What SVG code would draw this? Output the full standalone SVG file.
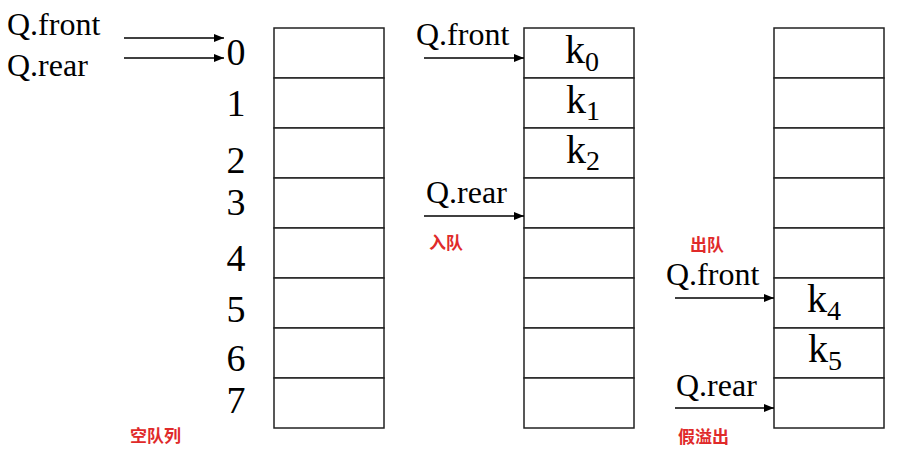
<svg xmlns="http://www.w3.org/2000/svg" width="921" height="454" viewBox="0 0 921 454">
<defs>
<marker id="ah" markerWidth="10" markerHeight="8" refX="10" refY="4" orient="auto" markerUnits="userSpaceOnUse">
<path d="M0,0 L10,4 L0,8 Z" fill="#000"/>
</marker>
<style>
.cell{fill:#fff;stroke:#222;stroke-width:1.5}
.lbl{font-size:32px;fill:#000}
.idx{font-size:38px;fill:#000;text-anchor:middle}
.k{font-size:40px;fill:#000}
.sub{font-size:28px}
.note{font-family:'Noto Sans CJK SC','Noto Sans',sans-serif;font-size:17px;font-weight:bold;fill:#e02a2a}
.arr{stroke:#000;stroke-width:1.5;fill:none;marker-end:url(#ah)}
</style>
</defs>
<rect width="921" height="454" fill="#fff"/>

<g font-family="Liberation Serif, DejaVu Serif, serif">
<g id="queue-empty">
<rect class="cell" x="274" y="28" width="110" height="50"/>
<rect class="cell" x="274" y="78" width="110" height="50"/>
<rect class="cell" x="274" y="128" width="110" height="50"/>
<rect class="cell" x="274" y="178" width="110" height="50"/>
<rect class="cell" x="274" y="228" width="110" height="50"/>
<rect class="cell" x="274" y="278" width="110" height="50"/>
<rect class="cell" x="274" y="328" width="110" height="50"/>
<rect class="cell" x="274" y="378" width="110" height="50"/>
</g>
<g id="indices">
<text class="idx" x="236" y="65">0</text>
<text class="idx" x="236" y="116">1</text>
<text class="idx" x="236" y="173">2</text>
<text class="idx" x="236" y="215">3</text>
<text class="idx" x="236" y="271">4</text>
<text class="idx" x="236" y="322">5</text>
<text class="idx" x="236" y="371">6</text>
<text class="idx" x="236" y="413">7</text>
</g>
<g id="labels-empty">
<text class="lbl" x="7" y="35">Q.front</text>
<text class="lbl" x="7" y="76">Q.rear</text>
<text class="note" x="130" y="442">空队列</text>
</g>

<g id="queue-enqueue">
<rect class="cell" x="524" y="28" width="110" height="50"/>
<rect class="cell" x="524" y="78" width="110" height="50"/>
<rect class="cell" x="524" y="128" width="110" height="50"/>
<rect class="cell" x="524" y="178" width="110" height="50"/>
<rect class="cell" x="524" y="228" width="110" height="50"/>
<rect class="cell" x="524" y="278" width="110" height="50"/>
<rect class="cell" x="524" y="328" width="110" height="50"/>
<rect class="cell" x="524" y="378" width="110" height="50"/>
<text class="k" x="565" y="63">k<tspan class="sub" dy="8">0</tspan></text>
<text class="k" x="566" y="113">k<tspan class="sub" dy="7">1</tspan></text>
<text class="k" x="566" y="163">k<tspan class="sub" dy="7">2</tspan></text>
</g>
<g id="labels-enqueue">
<text class="lbl" x="416" y="45">Q.front</text>
<text class="lbl" x="426" y="203">Q.rear</text>
<text class="note" x="429" y="249">入队</text>
</g>

<g id="queue-dequeue">
<rect class="cell" x="774" y="28" width="110" height="50"/>
<rect class="cell" x="774" y="78" width="110" height="50"/>
<rect class="cell" x="774" y="128" width="110" height="50"/>
<rect class="cell" x="774" y="178" width="110" height="50"/>
<rect class="cell" x="774" y="228" width="110" height="50"/>
<rect class="cell" x="774" y="278" width="110" height="50"/>
<rect class="cell" x="774" y="328" width="110" height="50"/>
<rect class="cell" x="774" y="378" width="110" height="50"/>
<text class="k" x="807" y="312">k<tspan class="sub" dy="8">4</tspan></text>
<text class="k" x="808" y="362">k<tspan class="sub" dy="8">5</tspan></text>
</g>
<g id="labels-dequeue">
<text class="note" x="690" y="251">出队</text>
<text class="lbl" x="666" y="285">Q.front</text>
<text class="lbl" x="676" y="396">Q.rear</text>
<text class="note" x="678" y="443">假溢出</text>
</g>
</g>

<g id="connectors">
<line class="arr" x1="124" y1="38" x2="224" y2="38"/>
<line class="arr" x1="124" y1="58" x2="224" y2="58"/>
<line class="arr" x1="424" y1="58" x2="524" y2="58"/>
<line class="arr" x1="424" y1="216" x2="524" y2="216"/>
<line class="arr" x1="675" y1="298" x2="774" y2="298"/>
<line class="arr" x1="675" y1="408" x2="774" y2="408"/>
</g>
</svg>
